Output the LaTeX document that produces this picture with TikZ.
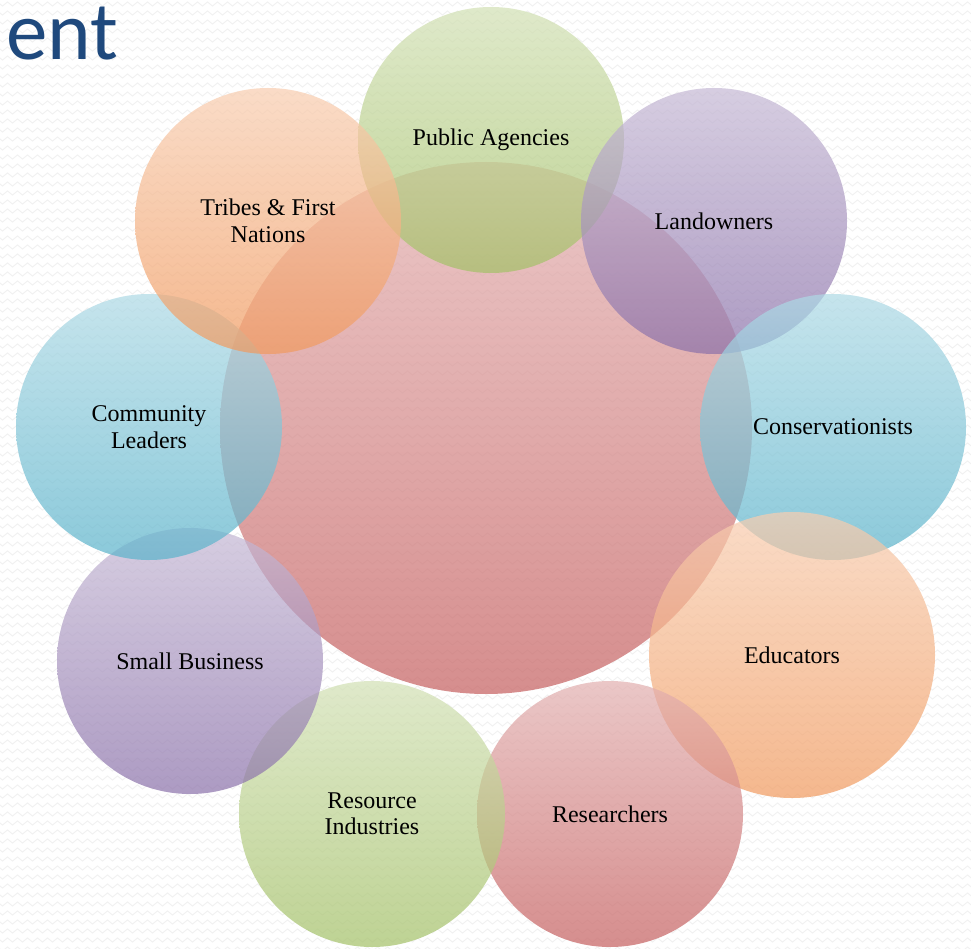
\documentclass[tikz,border=0pt]{standalone}
\usepackage{fontspec}
\setmainfont{Liberation Serif}
\newfontfamily\titlefont{Carlito}
\usepackage{tikz}
\usetikzlibrary{decorations.pathmorphing}
\definecolor{accgreen}{RGB}{155,187,89}
\definecolor{accpurple}{RGB}{128,100,162}
\definecolor{accblue}{RGB}{75,172,198}
\definecolor{accorange}{RGB}{240,145,80}
\definecolor{accred}{RGB}{192,80,80}
\definecolor{titleblue}{RGB}{31,73,125}
\tikzset{
  zig/.style   ={black!6, line width=0.8pt, decorate,
                 decoration={zigzag, segment length=10pt, amplitude=2pt}},
  bubble/.style={circle, inner sep=0pt, minimum size=266pt, align=center,
                 top color=#1!45, bottom color=#1!92, fill opacity=0.7,
                 text opacity=1, font=\fontsize{24}{26.5}\selectfont},
}

\begin{document}
\begin{tikzpicture}[x=1pt,y=-1pt]
  % background
  \useasboundingbox (0,0) rectangle (971,949);
  \fill[white] (0,0) rectangle (971,949);
  \begin{scope}
    \clip (0,0) rectangle (971,949);
    \foreach \r in {0,...,106}
      \draw[zig] (-5,\r*9+4) -- (980,\r*9+4);
  \end{scope}
  \node[anchor=base west, text=titleblue, font=\titlefont\fontsize{83}{83}\selectfont,
        inner sep=0pt, text height=52pt] (title) at (6,60) {ent};

  % centre
  \node[bubble=accred, minimum size=532pt] (hub) at (486,428) {};

  % ring, clockwise from the top
  \node[bubble=accgreen]  (agencies)  at (491,140) {Public Agencies};
  \node[bubble=accpurple] (owners)    at (714,221) {Landowners};
  \node[bubble=accblue]   (conserv)   at (833,427) {Conservationists};
  \node[bubble=accorange, minimum size=286pt] (educ) at (792,655) {Educators};
  \node[bubble=accred]    (research)  at (610,814) {Researchers};
  \node[bubble=accgreen]  (industry)  at (372,814) {Resource\\Industries};
  \node[bubble=accpurple] (business)  at (190,661) {Small Business};
  \node[bubble=accblue]   (community) at (149,427) {Community\\Leaders};
  \node[bubble=accorange] (tribes)    at (268,221) {Tribes \& First\\Nations};
\end{tikzpicture}
\end{document}
